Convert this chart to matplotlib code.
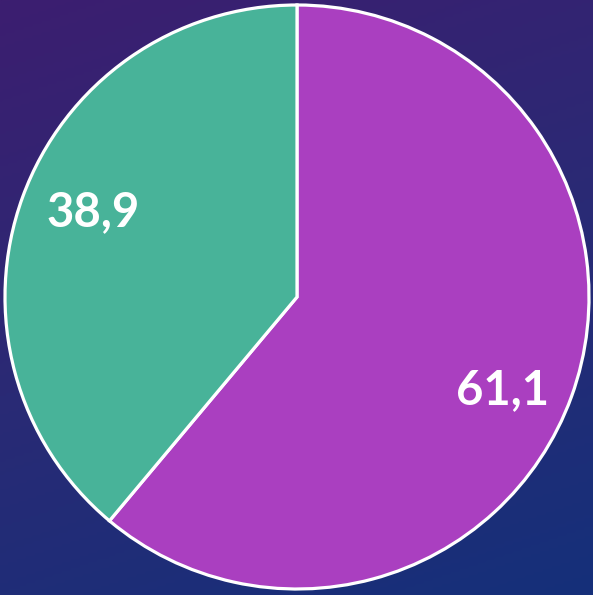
import numpy as np
import matplotlib.pyplot as plt
from matplotlib.colors import LinearSegmentedColormap

values = [61.1, 38.9]
labels = ["61,1", "38,9"]
colors = ["#aa3fc0", "#48b399"]

W, H = 593, 595
fig = plt.figure(figsize=(W / 100, H / 100), dpi=100)
ax = fig.add_axes([0, 0, 1, 1])

# background gradient, purple top-left to navy bottom
yy, xx = np.mgrid[0:1:200j, 0:1:200j]
t = np.clip(0.75 * (1 - yy) + 0.25 * xx, 0, 1)  # yy=0 is bottom (origin lower)
bg = LinearSegmentedColormap.from_list("bg", ["#3c1e70", "#2a2a75", "#15307a"])
ax.imshow(t, cmap=bg, extent=[0, W, 0, H], origin="lower", aspect="auto", zorder=0)

wedges, _ = ax.pie(values, colors=colors, startangle=90, counterclock=False,
                   center=(297, H - 297), radius=292, frame=True,
                   wedgeprops=dict(edgecolor="white", linewidth=2.3))
for w in wedges:
    w.set_zorder(2)
ax.set_xlim(0, W)
ax.set_ylim(0, H)
ax.set_aspect("auto")
ax.axis("off")

pos = [(503, H - 390), (93, H - 212)]
for lab, (x, y) in zip(labels, pos):
    ax.text(x, y, lab, color="white", fontsize=34, fontweight="bold",
            family="Lato", ha="center", va="center", zorder=3)

fig.savefig("out.png", dpi=100)
